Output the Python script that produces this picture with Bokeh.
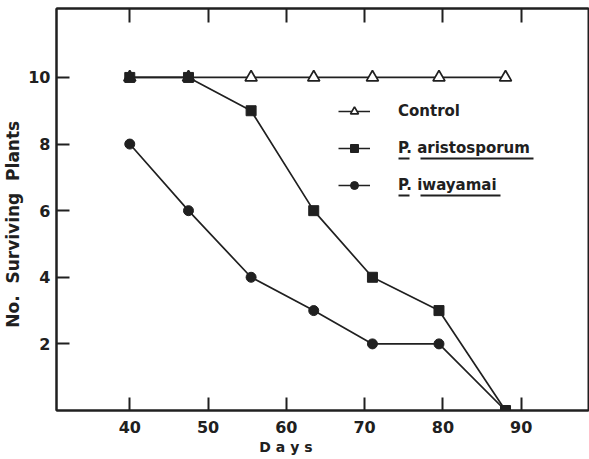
from bokeh.plotting import figure
from bokeh.models import Range1d, FixedTicker, LinearAxis, Legend, LegendItem, BoxAnnotation
from bokeh.embed import file_html
from bokeh.resources import INLINE

days = [40, 47.5, 55.5, 63.5, 71, 79.5, 88]
control = [10, 10, 10, 10, 10, 10, 10]
aristosporum = [10, 10, 9, 6, 4, 3, 0]
iwayamai = [8, 6, 4, 3, 2, 2, 0]
x_ticks = [40, 50, 60, 70, 80, 90]
y_ticks = [2, 4, 6, 8, 10]
NB = "\u00a0"
x_title = "D a y s" + NB * 15      # trailing blanks shift the centred title left
y_title = "No." + NB * 2 + "Surviving" + NB * 2 + "Plants" + NB * 5

INK = "#202020"
FONT = "DejaVu Sans"

p = figure(width=589, height=459, output_backend="svg", toolbar_location=None,
           x_range=Range1d(30.64, 98.6), y_range=Range1d(0, 12.07),
           min_border_left=55, min_border_right=1, min_border_top=8, min_border_bottom=49,
           background_fill_color="white", border_fill_color="white")
p.grid.visible = False
p.outline_line_color = INK
p.outline_line_width = 2

for ax in (p.xaxis[0], p.yaxis[0]):
    ax.axis_line_color = INK
    ax.axis_line_width = 2
    ax.major_tick_in = 13
    ax.major_tick_out = 0
    ax.major_tick_line_color = INK
    ax.major_tick_line_width = 2
    ax.minor_tick_line_color = None
    ax.major_label_text_font = FONT
    ax.major_label_text_font_size = "16px"
    ax.major_label_text_font_style = "bold"
    ax.major_label_text_color = INK
    ax.axis_label_text_font = FONT
    ax.axis_label_text_font_style = "bold"
    ax.axis_label_text_color = INK

p.xaxis[0].ticker = FixedTicker(ticks=x_ticks)
p.yaxis[0].ticker = FixedTicker(ticks=y_ticks)
p.xaxis[0].axis_label = x_title
p.xaxis[0].axis_label_text_font_size = "14px"
p.xaxis[0].axis_label_standoff = 3
p.xaxis[0].major_label_standoff = 10
p.yaxis[0].axis_label = y_title
p.yaxis[0].axis_label_text_font_size = "17px"
p.yaxis[0].major_label_standoff = 6
p.yaxis[0].axis_label_standoff = 2

top = LinearAxis(ticker=FixedTicker(ticks=x_ticks),
                 major_label_overrides={t: "" for t in x_ticks},
                 major_label_standoff=0,
                 major_tick_in=14, major_tick_out=0, major_tick_line_width=2,
                 major_tick_line_color=INK, minor_tick_line_color=None,
                 axis_line_color=INK, axis_line_width=2)
p.add_layout(top, "above")

lw = 1.7
c_line = p.line(days, control, line_color=INK, line_width=lw)
c_mark = p.scatter(days, control, marker="triangle", size=12, fill_color="white",
                   line_color=INK, line_width=1.7)
a_line = p.line(days, aristosporum, line_color=INK, line_width=lw)
a_mark = p.scatter(days, aristosporum, marker="square", size=10, fill_color=INK,
                   line_color=INK)
i_line = p.line(days, iwayamai, line_color=INK, line_width=lw)
i_mark = p.scatter(days, iwayamai, marker="circle", size=10, fill_color=INK,
                   line_color=INK)

legend = Legend(items=[
    LegendItem(label="Control", renderers=[c_line, c_mark]),
    LegendItem(label="P. aristosporum", renderers=[a_line, a_mark]),
    LegendItem(label="P. iwayamai", renderers=[i_line, i_mark]),
], location=(282, 215), glyph_width=32, glyph_height=20, label_height=20,
    spacing=17, padding=0, margin=0, label_standoff=28,
    border_line_color=None, background_fill_alpha=0,
    label_text_font=FONT, label_text_font_size="15px", label_text_font_style="bold",
    label_text_color=INK)
p.add_layout(legend, "center")

# underlines under the genus letter and species names in the legend
# (screen units: x from the frame's left, y up from the frame's bottom)
for (l, r, t) in [(342, 353, 253), (364, 477, 253), (342, 353, 216), (364, 444, 216)]:
    p.add_layout(BoxAnnotation(left=l, right=r, top=t, bottom=t - 2,
                               left_units="screen", right_units="screen",
                               top_units="screen", bottom_units="screen",
                               fill_color=INK, fill_alpha=1, line_color=None))

html = file_html(p, INLINE)
open("out.html", "w").write(html)
